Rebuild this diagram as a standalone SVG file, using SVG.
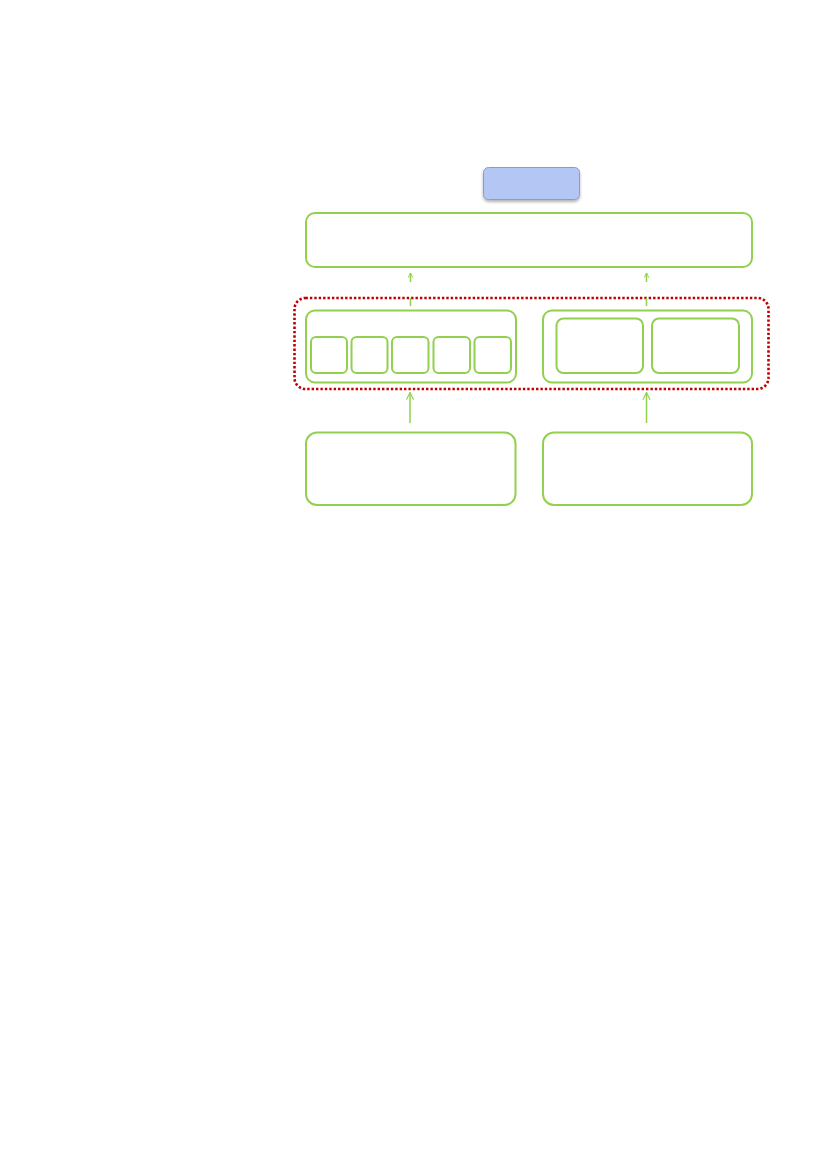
<svg xmlns="http://www.w3.org/2000/svg" width="827" height="1169" viewBox="0 0 827 1169">
<style>
.g{fill:none;stroke:#92d050;stroke-width:2}
.c{fill:none;stroke:#92d050;stroke-width:1.5}
</style>
<defs>
<marker id="ah" viewBox="0 0 10 10" refX="9" refY="5" markerWidth="6" markerHeight="6" orient="auto" markerUnits="userSpaceOnUse">
<path d="M1,1 L9,5 L1,9" fill="none" stroke="#92d050" stroke-width="1.6"/>
</marker>
<marker id="ah2" viewBox="0 0 10 10" refX="9" refY="5" markerWidth="9" markerHeight="9" orient="auto" markerUnits="userSpaceOnUse">
<path d="M1,1 L9,5 L1,9" fill="none" stroke="#92d050" stroke-width="1.3"/>
</marker>
<filter id="sh" x="-20%" y="-30%" width="140%" height="170%">
<feDropShadow dx="0" dy="2" stdDeviation="1.5" flood-color="#000" flood-opacity="0.3"/>
</filter>
</defs>
<rect width="827" height="1169" fill="#fff"/>
<g id="title">
<rect x="483.5" y="167.5" width="96" height="32" rx="5" fill="#b4c7f4" stroke="#8a9ccc" stroke-width="1" filter="url(#sh)"/>
</g>
<g id="top">
<rect class="g" x="306" y="213" width="446" height="54" rx="9"/>
</g>
<g id="group">
<rect x="294.5" y="298" width="474" height="91" rx="11" fill="none" stroke="#c00000" stroke-width="2.6" stroke-dasharray="2.4 2"/>
</g>
<g id="left">
<rect class="g" x="306" y="310.5" width="210" height="72" rx="9"/>
<rect class="g" x="311" y="337" width="36" height="36" rx="5"/>
<rect class="g" x="351.5" y="337" width="36" height="36" rx="5"/>
<rect class="g" x="392" y="337" width="36.5" height="36" rx="5"/>
<rect class="g" x="433.5" y="337" width="36.5" height="36" rx="5"/>
<rect class="g" x="474.5" y="337" width="36.5" height="36" rx="5"/>
</g>
<g id="right">
<rect class="g" x="543" y="310.5" width="209" height="72" rx="9"/>
<rect class="g" x="556.5" y="318.5" width="86.5" height="54.5" rx="7"/>
<rect class="g" x="652" y="318.5" width="87" height="54.5" rx="7"/>
</g>
<g id="bottomLeft">
<rect class="g" x="306" y="432.5" width="209.5" height="72.5" rx="11"/>
</g>
<g id="bottomRight">
<rect class="g" x="543" y="432.5" width="209" height="72.5" rx="11"/>
</g>
<g id="connectors">
<path class="c" d="M410.5,306 V273" stroke-dasharray="8 16 9" marker-end="url(#ah)"/>
<path class="c" d="M646.5,306 V273" stroke-dasharray="8 16 9" marker-end="url(#ah)"/>
<path class="c" d="M410,423 V392.5" marker-end="url(#ah2)"/>
<path class="c" d="M646.5,423 V392.5" stroke="#abdd7e" marker-end="url(#ah2)"/>
</g>
</svg>
